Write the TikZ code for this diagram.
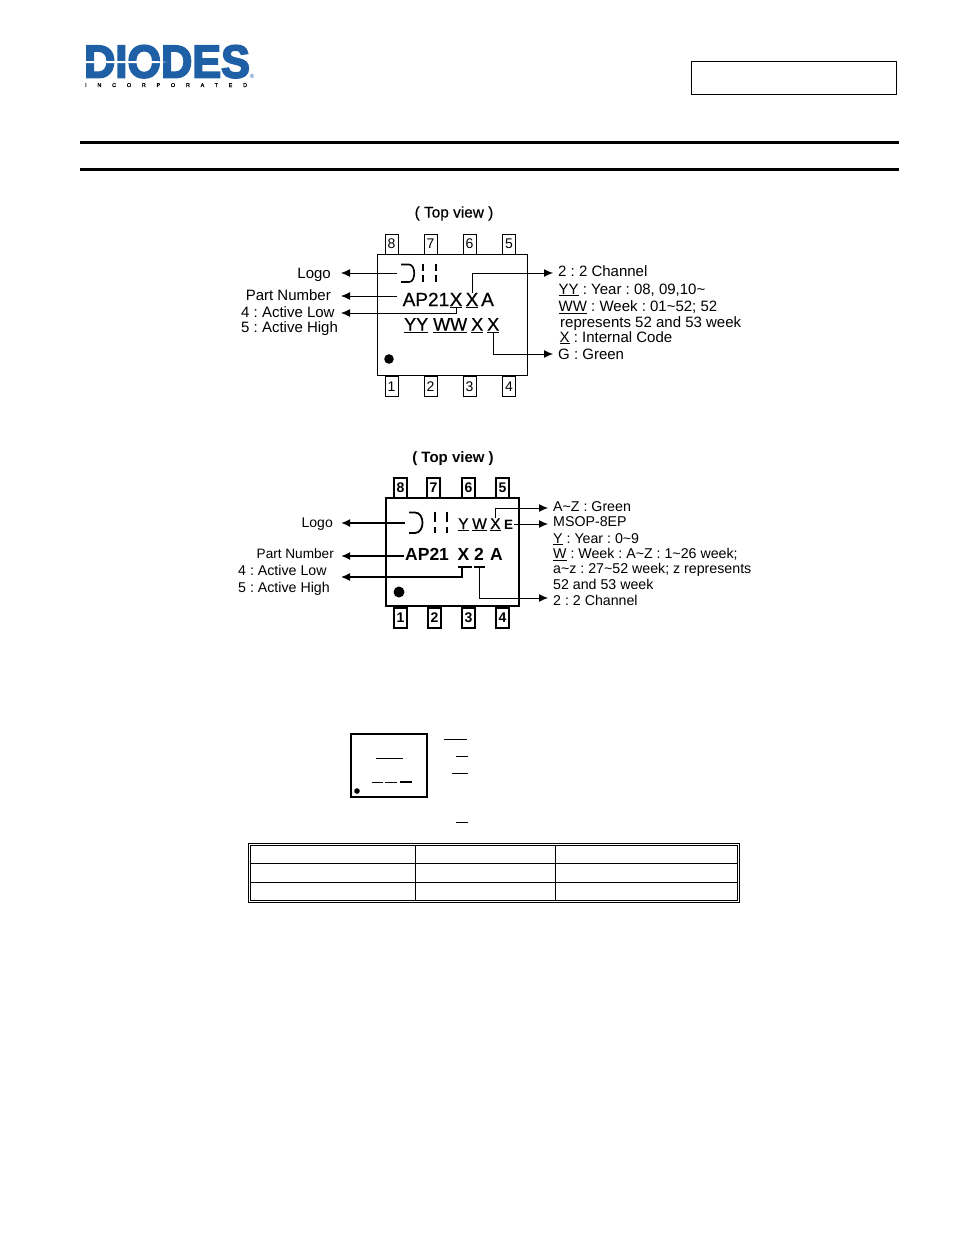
\documentclass[tikz,border=0pt]{standalone}
\usepackage{fontspec}
\setmainfont{Liberation Sans}
\newfontfamily\logofont[FakeBold=4]{Liberation Sans}
\newfontfamily\logosubfont[LetterSpace=195,FakeBold=1]{Liberation Sans}
\newfontfamily\markfont[FakeBold=0.6]{Liberation Sans}
\usepackage{tikz}
\usetikzlibrary{shapes,
                arrows,
                arrows.meta,
                positioning}
\definecolor{logoblue}{HTML}{1F5FA6}
\tikzset{pinbox/.style=
   {rectangle,
    draw,
    line width=0.9pt,
    inner sep=0pt,
    minimum width=13pt,
    minimum height=20pt,
    font=\fontsize{14}{14}\selectfont}}
\tikzset{boldpin/.style=
   {pinbox,
    line width=1.8pt,
    font=\fontsize{14}{14}\selectfont\bfseries}}
\tikzset{body/.style=
   {inner sep=0pt,
    anchor=base west,
    font=\fontsize{15}{15}\selectfont\frenchspacing}}
\tikzset{bodysmall/.style=
   {inner sep=0pt,
    anchor=base west,
    font=\fontsize{14.2}{15}\selectfont\frenchspacing}}
\tikzset{side/.style=
   {inner sep=0pt,
    anchor=base east,
    font=\fontsize{15}{15}\selectfont}}
\tikzset{marktext/.style=
   {inner sep=0pt,
    anchor=base west,
    font=\fontsize{19}{19}\markfont}}
\tikzset{marklow/.style=
   {marktext,
    font=\fontsize{18}{18}\markfont}}
\tikzset{marktextbold/.style=
   {inner sep=0pt,
    anchor=base west,
    font=\fontsize{17.5}{18}\selectfont\bfseries}}
\tikzset{marksmall/.style=
   {inner sep=0pt,
    anchor=base west,
    font=\fontsize{15.5}{16}\markfont}}
\tikzset{arrow/.style = {draw, line width=1pt, -{Latex[length=9pt,width=8pt]}}}
\tikzset{arrowmid/.style = {draw, line width=1.3pt, -{Latex[length=9pt,width=8pt]}}}
\tikzset{arrowbold/.style = {draw, line width=1.9pt, -{Latex[length=9pt,width=8pt]}}}
\tikzset{rule/.style = {draw, line width=1pt}}

\begin{document}
\begin{tikzpicture}[x=1pt,y=-1pt]
    \useasboundingbox (0,0) rectangle (954,1235);

    % Header
    \node [inner sep=0pt, anchor=base west, text=logoblue, xscale=0.94,
           font=\fontsize{46}{46}\logofont\bfseries] (logoword) at (84,77.5) {DIODES};
    \fill [white] (84,61.2) rectangle (158,63) -- (167,62) -- (158,61.2);
    \node [inner sep=0pt, text=logoblue, font=\fontsize{6}{6}\selectfont] (logoreg) at (252,76) {\textregistered};
    \node [inner sep=0pt, anchor=base west, font=\fontsize{5.5}{6}\logosubfont] (logosub) at (85,87) {INCORPORATED};
    \draw [line width=1pt] (691.5,61) rectangle (896,94.5);
    \draw [line width=3pt] (80,142) -- (899,142);
    \draw [line width=3pt] (80,169) -- (899,169);

    % Package 1
    \node [inner sep=0pt, anchor=base, font=\fontsize{15.4}{15}\markfont] (titleone) at (454,217.5) {( Top view )};
    \draw [line width=1pt] (377,254) rectangle (527,375);
    \node [pinbox] (oneeight) at (391.5,244) {8};
    \node [pinbox, right of=oneeight, node distance=39pt] (oneseven) {7};
    \node [pinbox, right of=oneseven, node distance=39pt] (onesix) {6};
    \node [pinbox, right of=onesix, node distance=39.5pt] (onefive) {5};
    \node [pinbox] (oneone) at (391.5,386.5) {1};
    \node [pinbox, right of=oneone, node distance=39pt] (onetwo) {2};
    \node [pinbox, right of=onetwo, node distance=39pt] (onethree) {3};
    \node [pinbox, right of=onethree, node distance=39.5pt] (onefour) {4};
    \fill (389,359) circle (4.8);

    % Package 1 marking
    \draw [line width=1.6pt] (401,264.5) -- (409,264.5) .. controls (416,264.5) and (416,282) .. (409,282) -- (401,282);
    \draw [line width=1.6pt] (423,264) -- (423,271) (423,275) -- (423,282);
    \draw [line width=1.6pt] (436,264) -- (436,271) (436,275) -- (436,282);
    \node [marktext] (onepart) at (402.5,306) {AP21};
    \node [marktext] (onexa) at (449.5,306) {\underline{X}};
    \node [marktext] (onexb) at (465.5,306) {\underline{X}};
    \node [marktext] (onea) at (481,306) {A};
    \node [marklow] (oneyy) at (404,330.5) {\underline{YY}};
    \node [marklow] (oneww) at (433,330.5) {\underline{WW}};
    \node [marklow] (onexc) at (471,330.5) {\underline{X}};
    \node [marklow] (onexd) at (487,330.5) {\underline{X}};

    % Package 1 labels
    \node [side] (onelogo) at (331,278) {Logo};
    \node [side] (onenumber) at (331,300.7) {Part Number};
    \node [body] (onelow) at (241,317.7) {4 : Active Low};
    \node [body] (onehigh) at (241,332) {5 : Active High};
    \node [body] (onechan) at (558,276) {2 : 2 Channel};
    \node [body] (oneyear) at (558.5,294) {\underline{YY} : Year : 08, 09,10\textasciitilde};
    \node [body] (oneweek) at (558.5,311.5) {\underline{WW} : Week : 01\textasciitilde 52; 52};
    \node [body] (onerep) at (560,327) {represents 52 and 53 week};
    \node [body] (onecode) at (559.5,342) {\underline{X} : Internal Code};
    \node [body] (onegreen) at (558,359) {G : Green};

    % Package 1 edges
    \coordinate (onelogomark) at (397,273);
    \coordinate (onelogotip) at (341,273);
    \coordinate (onenummark) at (397,296);
    \coordinate (onenumtip) at (341,296);
    \coordinate (onelowtip) at (341,313);
    \coordinate (onechantip) at (553,273);
    \coordinate (onegreentip) at (553,354);
    \path [arrow] (onelogomark) -- (onelogotip);
    \path [arrow] (onenummark) -- (onenumtip);
    \path [arrow] (onexa.south) |- (onelowtip);
    \path [arrow] (onexb.north) |- (onechantip);
    \path [arrow] (onexd.south) |- (onegreentip);

    % Package 2
    \node [inner sep=0pt, anchor=base, font=\fontsize{15}{15}\selectfont\bfseries] (titletwo) at (453,462.5) {( Top view )};
    \draw [line width=1.8pt] (386,498) rectangle (519,606);
    \node [boldpin] (twoeight) at (400.5,488) {8};
    \node [boldpin, right of=twoeight, node distance=33pt] (twoseven) {7};
    \node [boldpin, right of=twoseven, node distance=35pt] (twosix) {6};
    \node [boldpin, right of=twosix, node distance=34pt] (twofive) {5};
    \node [boldpin] (twoone) at (400.5,618) {1};
    \node [boldpin, right of=twoone, node distance=34pt] (twotwo) {2};
    \node [boldpin, right of=twotwo, node distance=34pt] (twothree) {3};
    \node [boldpin, right of=twothree, node distance=34pt] (twofour) {4};
    \fill (399,592) circle (5.5);

    % Package 2 marking
    \draw [line width=1.8pt] (409,512.5) -- (415,512.5) .. controls (425,512.5) and (425,533) .. (415,533) -- (409,533);
    \draw [line width=1.8pt] (435,511.5) -- (435,522) (435,527) -- (435,533);
    \draw [line width=1.8pt] (447,511.5) -- (447,522) (447,527) -- (447,533);
    \node [marktextbold] (twopart) at (405,560.7) {AP21};
    \node [marktextbold] (twox) at (457.5,560.7) {X};
    \node [marktextbold] (twochan) at (474,560.7) {2};
    \node [marktextbold] (twoa) at (490,560.7) {A};
    \node [marksmall] (twoy) at (458,529) {\underline{Y}};
    \node [marksmall] (twow) at (472,529) {\underline{W}};
    \node [marksmall] (twoxs) at (490,529) {\underline{X}};
    \node [inner sep=0pt, anchor=base west, font=\fontsize{13.5}{15}\selectfont\bfseries] (twoe) at (504,529) {E};

    % Package 2 labels
    \node [side, font=\fontsize{14}{15}\selectfont] (twologo) at (333,527) {Logo};
    \node [side, font=\fontsize{13.6}{15}\selectfont] (twonumber) at (334,558) {Part Number};
    \node [bodysmall] (twolow) at (238,575) {4 : Active Low};
    \node [bodysmall] (twohigh) at (238,592.7) {5 : Active High};
    \node [bodysmall] (twogreen) at (553,511.7) {A\textasciitilde Z : Green};
    \node [bodysmall] (twomsop) at (553,526.7) {MSOP-8EP};
    \node [bodysmall] (twoyear) at (553,543) {\underline{Y} : Year : 0\textasciitilde 9};
    \node [bodysmall] (twoweek) at (553,558.3) {\underline{W} : Week : A\textasciitilde Z : 1\textasciitilde 26 week;};
    \node [bodysmall] (twoaz) at (553,573.3) {a\textasciitilde z : 27\textasciitilde 52 week; z represents};
    \node [bodysmall] (twosf) at (553,589) {52 and 53 week};
    \node [bodysmall] (twotwochan) at (553,605) {2 : 2 Channel};

    % Package 2 edges
    \coordinate (twologomark) at (405,523);
    \coordinate (twologotip) at (341,523);
    \coordinate (twonummark) at (404,556);
    \coordinate (twonumtip) at (341,556);
    \coordinate (twolowtip) at (341,577);
    \coordinate (twogreentip) at (548,508);
    \coordinate (twoemark) at (514,524);
    \coordinate (twomsoptip) at (548,524);
    \coordinate (twochantip) at (548,598);
    \coordinate (twoxbar) at (462,567);
    \coordinate (twochanbar) at (479.5,567);
    \draw [line width=1.6pt] (458,567) -- (472,567);
    \draw [line width=1.6pt] (474,567) -- (485,567);
    \path [arrowbold] (twologomark) -- (twologotip);
    \path [arrowbold] (twonummark) -- (twonumtip);
    \path [arrowmid] (twoxbar) |- (twolowtip);
    \path [arrow] (twoxs.north) |- (twogreentip);
    \path [arrow] (twoemark) -- (twomsoptip);
    \path [arrow] (twochanbar) |- (twochantip);

    % Package 3
    \draw [line width=1.2pt] (351,734) rectangle (427,797);
    \fill (357,791) circle (2.8);
    \draw [rule] (376,758) -- (403,758);
    \draw [rule] (372,782) -- (383,782);
    \draw [rule] (385,782) -- (397,782);
    \draw [line width=1.8pt] (400,782) -- (411.5,782);
    \draw [rule] (444,739) -- (467,739);
    \draw [rule] (456,756) -- (468,756);
    \draw [rule] (452,773) -- (468,773);
    \draw [rule] (456,822) -- (468,822);

    % Table
    \draw [line width=1pt] (248.5,843.5) rectangle (739.5,902.5);
    \draw [line width=1pt] (250.5,845.5) rectangle (737.5,900.5);
    \draw [line width=1pt] (250.5,863.5) -- (737.5,863.5);
    \draw [line width=1pt] (250.5,882.5) -- (737.5,882.5);
    \draw [line width=1pt] (415.5,845.5) -- (415.5,900.5);
    \draw [line width=1pt] (555.5,845.5) -- (555.5,900.5);

\end{tikzpicture}
\end{document}
